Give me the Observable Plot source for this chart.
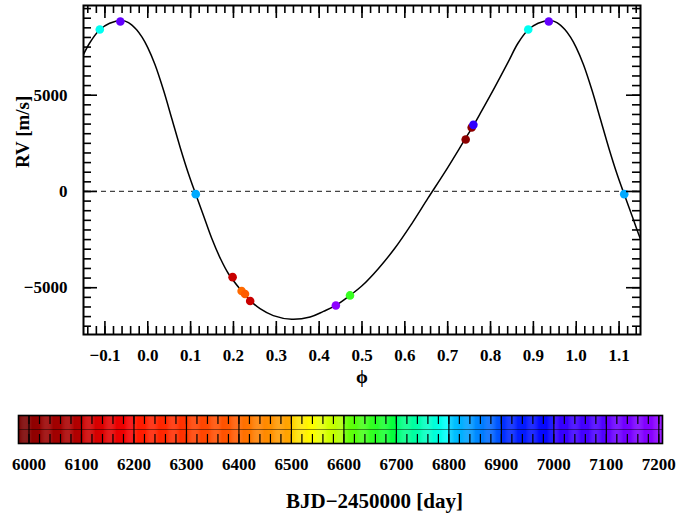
<!DOCTYPE html>
<html><head><meta charset="utf-8">
<script src="https://cdn.jsdelivr.net/npm/d3@7"></script>
<script src="https://cdn.jsdelivr.net/npm/@observablehq/plot@0.6"></script>
<style>
html,body{margin:0;padding:0;background:#fff;}
svg{display:block;}
</style></head><body><div id="chart"></div>
<script>
// ---- observed radial velocities (one cycle, phase in [0,1)) ----
const obsPhase = [0.112, 0.198, 0.219, 0.227, 0.239, 0.439, 0.472, 0.742, 0.756, 0.760, 0.888, 0.936];
const obsRV    = [-140, -4450, -5170, -5330, -5690, -5920, -5400, 2700, 3320, 3460, 8410, 8830];
const obsBJD   = [6830, 6100, 6400, 6395, 6105, 7200, 6650, 6000, 6005, 7000, 6790, 7100];

// ---- model curve (one cycle) ----
const curvePhase = [0.000, 0.017, 0.037, 0.056, 0.076, 0.095, 0.112, 0.130, 0.149, 0.169, 0.188, 0.219, 0.239, 0.262, 0.293, 0.336, 0.379, 0.410, 0.439, 0.472, 0.500, 0.538, 0.577, 0.616, 0.654, 0.693, 0.742, 0.760, 0.779, 0.810, 0.841, 0.864, 0.888, 0.911, 0.940, 0.955, 0.974, 0.987];
const curveRV    = [7470, 6580, 5240, 3790, 2260, 920, -150, -1250, -2420, -3460, -4260, -5170, -5670, -6090, -6450, -6640, -6520, -6230, -5920, -5400, -4900, -4010, -2940, -1680, -350, 990, 2770, 3420, 4170, 5420, 6720, 7700, 8400, 8740, 8880, 8770, 8400, 8000];

// ---- axes ----
const xMajorTicks = [-0.1, 0.0, 0.1, 0.2, 0.3, 0.4, 0.5, 0.6, 0.7, 0.8, 0.9, 1.0, 1.1];
const yMajorTicks = [-5000, 0, 5000];
const barMajorTicks = [6000, 6100, 6200, 6300, 6400, 6500, 6600, 6700, 6800, 6900, 7000, 7100, 7200];
const xMinorTicks = d3.range(-7, 58).map(i => +(i * 0.02).toFixed(2));
const yMinorTicks = d3.range(-7000, 9501, 500);
const barMinorTicks = d3.range(6000, 7201, 20);

// ---- colour table (BJD-2450000) ----
const colorDomain = [5980, 5999, 6000, 6099, 6100, 6199, 6200, 6299, 6300, 6399, 6400, 6499, 6500, 6540, 6599, 6600, 6699, 6700, 6799, 6800, 6899, 6900, 6999, 7000, 7099, 7100, 7207];
const colorRange  = ["#7a0000", "#7a0000", "#8c0000", "#b40000", "#c80000", "#f80000", "#ff1800", "#ff3400", "#ff3c00", "#ff5c00", "#ff6a00", "#ffa800", "#ffd000", "#ffff00", "#a8ff00", "#70ff00", "#00ff40", "#00ff70", "#00ffff", "#00d0ff", "#0050ff", "#0030ff", "#0800ff", "#3000ff", "#5400ff", "#6400ff", "#9000ff"];

const minus = s => s.replace("-", "\u2212");
const colorOpts = {type: "linear", domain: colorDomain, range: colorRange, interpolate: "rgb", clamp: true};

// build displayed data (phase folded, with repeats outside [0,1])
const obs = obsPhase.map((p, i) => ({phase: p, rv: obsRV[i], bjd: obsBJD[i]}));
const obsShown = [];
for (const d of obs) {
  for (const k of [-1, 0, 1]) {
    const p = d.phase + k;
    if (p >= -0.15 && p <= 1.15) obsShown.push({...d, phase: p});
  }
}
const curve = [];
for (const k of [-1, 0, 1]) curvePhase.forEach((p, i) => {
  const q = p + k;
  if (q >= -0.2 && q <= 1.2) curve.push({phase: q, rv: curveRV[i]});
});
curve.sort((a, b) => a.phase - b.phase);

const W = 700, H1 = 395;
const mL = 83, mR = 60, mT = 5, mB = 61;
const FW = W - mL - mR, FH = H1 - mT - mB;
const tk = {stroke: "black", strokeWidth: 1.6};
const font = "'Liberation Serif', 'DejaVu Serif', serif";

const main = Plot.plot({
  width: W, height: H1,
  marginLeft: mL, marginRight: mR, marginTop: mT, marginBottom: mB,
  x: {domain: [-0.15, 1.15]},
  y: {domain: [-7430, 9660]},
  color: colorOpts,
  style: {fontFamily: font, fontSize: "17px", fontWeight: "bold", color: "black", background: "white"},
  marks: [
    Plot.ruleY([0], {stroke: "#444", strokeWidth: 1.2, strokeDasharray: "5,4"}),
    Plot.line(curve, {x: "phase", y: "rv", curve: "catmull-rom", stroke: "black", strokeWidth: 1.5, clip: true}),
    Plot.dot(obsShown, {x: "phase", y: "rv", fill: "bjd", r: 4.3}),
    // inward ticks on four sides
    Plot.tickX(xMinorTicks, {...tk, insetTop: FH - 8}),
    Plot.tickX(xMinorTicks, {...tk, insetBottom: FH - 8}),
    Plot.tickX(xMajorTicks, {...tk, insetTop: FH - 13}),
    Plot.tickX(xMajorTicks, {...tk, insetBottom: FH - 13}),
    Plot.tickY(yMinorTicks, {...tk, insetRight: FW - 8}),
    Plot.tickY(yMinorTicks, {...tk, insetLeft: FW - 8}),
    Plot.tickY(yMajorTicks, {...tk, insetRight: FW - 14}),
    Plot.tickY(yMajorTicks, {...tk, insetLeft: FW - 14}),
    Plot.frame({stroke: "black", strokeWidth: 2}),
    Plot.axisX(xMajorTicks, {tickSize: 0, tickPadding: 14, tickFormat: d => minus(d.toFixed(1)), label: null}),
    Plot.axisY(yMajorTicks, {tickSize: 0, tickPadding: 16, tickFormat: d => minus(String(d)), label: null}),
    Plot.text(["\u03D5"], {frameAnchor: "bottom", dy: 48, fontSize: 19}),
    Plot.text(["RV [m/s]"], {frameAnchor: "left", rotate: -90, dx: -61, dy: -2, fontSize: 19})
  ]
});

// ---- colour bar ----
const H2 = 526 - H1;
const barSteps = d3.range(5980, 7207, 2);
const bT = 20, bB = 83;
const BH = H2 - bT - bB;
const bar = Plot.plot({
  width: W, height: H2,
  marginLeft: 18, marginRight: 38, marginTop: bT, marginBottom: bB,
  x: {domain: [5980, 7207]},
  y: {domain: [0, 1], axis: null},
  color: colorOpts,
  style: {fontFamily: font, fontSize: "17px", fontWeight: "bold", color: "black", background: "white"},
  marks: [
    Plot.rect(barSteps, {x1: d => d, x2: d => d + 2.6, y1: 0, y2: 1, fill: d => d + 1}),
    Plot.ruleY([0.5], {stroke: "black", strokeOpacity: 0.45, strokeWidth: 1}),
    Plot.tickX(barMinorTicks, {stroke: "black", strokeWidth: 1.2, insetBottom: BH - 9}),
    Plot.tickX(barMinorTicks, {stroke: "black", strokeWidth: 1.2, insetTop: BH - 9}),
    Plot.tickX(barMajorTicks, {stroke: "black", strokeWidth: 1.2}),
    Plot.frame({stroke: "black", strokeWidth: 1.6}),
    Plot.axisX(barMajorTicks, {tickSize: 0, tickPadding: 14, tickFormat: d => String(d), label: null}),
    Plot.text(["BJD\u22122450000 [day]"], {frameAnchor: "bottom", dx: 34, dy: 64, fontSize: 21})
  ]
});

const el = document.getElementById("chart");
el.appendChild(main);
el.appendChild(bar);
</script>
</body></html>
